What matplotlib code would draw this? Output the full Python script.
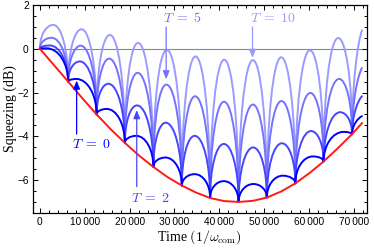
import matplotlib
matplotlib.use('Agg')
import matplotlib.pyplot as plt
from matplotlib.path import Path
from matplotlib.patches import PathPatch
from matplotlib.ticker import MultipleLocator, FuncFormatter

plt.rcParams['mathtext.fontset'] = 'cm'

# points where all blue curves touch the red envelope
touch_t = [0, 6300, 12650, 18950, 25300, 31650, 37950, 44300, 50600, 56950, 63250, 69600]
touch_y = [0.0, -1.5, -3.0, -4.3, -5.4, -6.25, -6.8, -7.0, -6.8, -6.15, -5.15, -3.9]

# red envelope
red_t = [0, 3150, 6300, 9500, 12650, 15800, 18950, 22100, 25300, 28500, 31650, 34800,
         37950, 41100, 44300, 47450, 50600, 53800, 56950, 60100, 63250, 66400, 69600, 71800]
red_y = [0, -0.75, -1.5, -2.27, -3.0, -3.68, -4.3, -4.88, -5.4, -5.87, -6.25, -6.57,
         -6.82, -6.96, -7.0, -6.95, -6.8, -6.52, -6.15, -5.68, -5.15, -4.55, -3.9, -3.4]

# arch tops of each blue curve (time, value), plus where the curve ends
T10_peak_t = [3000, 9300, 15600, 21900, 28300, 34700, 41100, 47500, 53800, 60200, 66500]
T10_peak_y = [1.09, 0.89, 0.63, 0.27, -0.05, -0.35, -0.5, -0.52, -0.39, -0.07, 0.49]
T5_peak_t = [2600, 9100, 15450, 21800, 28200, 34600, 41050, 47500, 53850, 60300, 66700]
T5_peak_y = [0.5, 0.14, -0.45, -1.1, -1.64, -2.17, -2.42, -2.55, -2.39, -2.02, -1.38]
T2_peak_t = [2200, 8900, 15250, 21650, 28050, 34500, 41000, 47550, 53950, 60450, 66950]
T2_peak_y = [0.15, -0.58, -1.6, -2.59, -3.38, -3.98, -4.35, -4.51, -4.32, -3.76, -2.9]
T0_peak_t = [1500, 8150, 14900, 21500, 28000, 34500, 41000, 47600, 54150, 60850, 67700]
T0_peak_y = [0.02, -1.38, -2.75, -3.98, -4.97, -5.73, -6.05, -6.18, -5.8, -4.92, -3.8]
end_t = 71800
end_y = {'T10': 0.84, 'T5': -0.88, 'T2': -2.17, 'T0': -3.08}

colors = {'T10': '#9b9bff', 'T5': '#7373ff', 'T2': '#4646ff', 'T0': '#0000ff'}


def arch_path(peak_t, peak_y, y_last):
    k = 0.55
    verts = [(touch_t[0], touch_y[0])]
    codes = [Path.MOVETO]
    for i in range(len(peak_t)):
        t0, y0 = touch_t[i], touch_y[i]
        t1, y1 = touch_t[i + 1], touch_y[i + 1]
        tp, yp = peak_t[i], peak_y[i]
        verts += [(t0, y0 + k * (yp - y0)), (tp - k * (tp - t0), yp), (tp, yp)]
        verts += [(tp + k * (t1 - tp), yp), (t1, y1 + k * (yp - y1)), (t1, y1)]
        codes += [Path.CURVE4] * 6
    t0, y0 = touch_t[-1], touch_y[-1]
    w, h = end_t - t0, y_last - y0
    verts += [(t0, y0 + 0.5 * h), (t0 + 0.6 * w, y0 + 0.9 * h), (end_t, y_last)]
    codes += [Path.CURVE4] * 3
    return Path(verts, codes)


fig = plt.figure(figsize=(3.74, 2.49), dpi=100)
ax = fig.add_axes([0.088, 0.145, 0.893, 0.835])

ax.axhline(0, color='#888888', lw=0.8, zorder=1)

curves = [('T10', T10_peak_t, T10_peak_y), ('T5', T5_peak_t, T5_peak_y),
          ('T2', T2_peak_t, T2_peak_y), ('T0', T0_peak_t, T0_peak_y)]
for name, pt, py in curves:
    p = arch_path(pt, py, end_y[name])
    ax.add_patch(PathPatch(p, fc='none', ec=colors[name], lw=1.4, zorder=2,
                           capstyle='round', joinstyle='round'))

ax.plot(red_t, red_y, color='#ff1a1a', lw=1.4, zorder=3)

# labels with arrows
arrow = dict(arrowstyle='-|>,head_length=0.5,head_width=0.2', lw=0.9, shrinkA=0, shrinkB=0)
ax.annotate('', xy=(8200, -1.45), xytext=(8200, -3.9),
            arrowprops=dict(arrow, color=colors['T0']))
ax.text(11500, -4.35, r'$T\;=\;0$', color=colors['T0'], fontsize=10, ha='center', va='center')
ax.annotate('', xy=(21600, -2.8), xytext=(21600, -6.3),
            arrowprops=dict(arrow, color=colors['T2']))
ax.text(24700, -6.8, r'$T\;=\;2$', color=colors['T2'], fontsize=10, ha='center', va='center')
ax.annotate('', xy=(28150, -1.4), xytext=(28150, 1.0),
            arrowprops=dict(arrow, color=colors['T5']))
ax.text(31800, 1.42, r'$T\;=\;5$', color=colors['T5'], fontsize=10, ha='center', va='center')
ax.annotate('', xy=(47400, -0.42), xytext=(47400, 1.0),
            arrowprops=dict(arrow, color=colors['T10']))
ax.text(52000, 1.42, r'$T\;=\;10$', color=colors['T10'], fontsize=10, ha='center', va='center')

ax.set_xlim(-1550, 72900)
ax.set_ylim(-7.5, 2)
ax.xaxis.set_major_locator(MultipleLocator(10000))
ax.xaxis.set_minor_locator(MultipleLocator(2000))
ax.yaxis.set_major_locator(MultipleLocator(2))
ax.yaxis.set_minor_locator(MultipleLocator(0.5))


def fmt_x(v, pos):
    if v == 0:
        return '0'
    return '%d\u2009000' % int(round(v / 1000))


ax.xaxis.set_major_formatter(FuncFormatter(fmt_x))
ax.yaxis.set_major_formatter(FuncFormatter(lambda v, p: ('%d' % v).replace('-', '\u2212')))
ax.tick_params(which='both', direction='in', top=True, right=True, width=0.7)
ax.tick_params(which='major', length=3.5, labelsize=7.3, pad=3)
ax.tick_params(which='minor', length=2)
for lab in ax.get_xticklabels() + ax.get_yticklabels():
    lab.set_family(['Liberation Sans', 'DejaVu Sans'])
for s in ax.spines.values():
    s.set_linewidth(0.9)

ax.set_xlabel(r'Time $(1/\omega_{\rm com})$', family='Liberation Serif', fontsize=10, labelpad=1)
ax.set_ylabel('Squeezing (dB)', family='Liberation Serif', fontsize=10, labelpad=0)

fig.savefig('out.png', dpi=100)
